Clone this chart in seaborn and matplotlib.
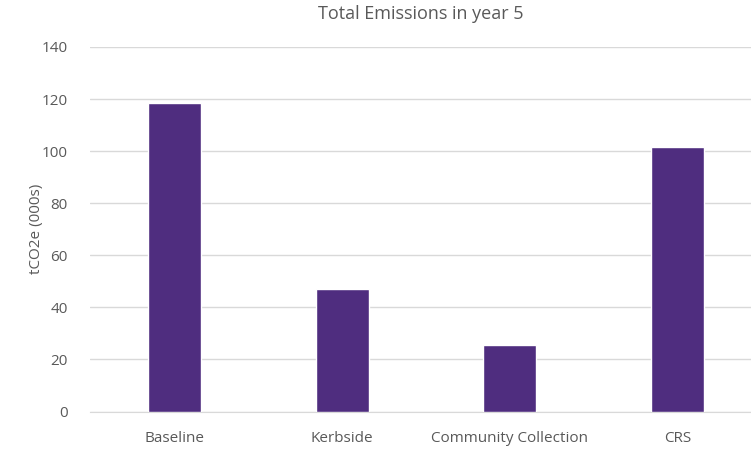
import matplotlib
matplotlib.use("Agg")
import matplotlib.pyplot as plt
import seaborn as sns
import pandas as pd

# data
categories = ["Baseline", "Kerbside", "Community Collection", "CRS"]
emissions = [118.3, 47.0, 25.5, 101.6]

df = pd.DataFrame({"scenario": categories, "tco2e": emissions})

sns.set_style("white")
plt.rcParams["font.family"] = ["Open Sans", "DejaVu Sans"]

fig = plt.figure(figsize=(7.51, 4.49), dpi=100)
ax = fig.add_axes([90 / 751, 37.5 / 449, 661 / 751, 364.5 / 449])

sns.barplot(data=df, x="scenario", y="tco2e", color="#4F2D7F",
            width=0.315, saturation=1, ax=ax, zorder=3)

ax.set_ylim(0, 140)
ax.set_xlim(-0.506, 3.44)
ax.set_yticks(range(0, 141, 20))
ax.yaxis.grid(True, color="#D9D9D9", linewidth=1, zorder=0)
ax.xaxis.grid(False)
for s in ["top", "right", "left"]:
    ax.spines[s].set_visible(False)
ax.spines["bottom"].set_color("#D9D9D9")

ax.tick_params(axis="both", length=0, labelsize=11, colors="#595959")
ax.tick_params(axis="y", pad=16)
ax.tick_params(axis="x", pad=14)
ax.set_xlabel("")
ax.set_ylabel("tCO2e (000s)", fontsize=11, color="#595959", labelpad=-2)
ax.set_title("Total Emissions in year 5", fontsize=13, color="#595959", pad=20)

fig.savefig("out.png", dpi=100)
